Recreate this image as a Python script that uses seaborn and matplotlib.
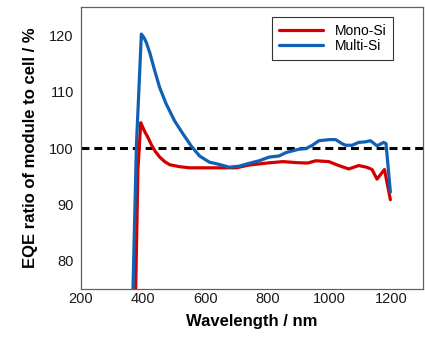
import numpy as np
import pandas as pd
import matplotlib
matplotlib.use("Agg")
import matplotlib.pyplot as plt
import seaborn as sns

mono_wl = [375, 384, 393, 405, 416, 428, 440, 454, 470, 486, 518, 550, 600, 650,
           700, 742, 800, 850, 900, 930, 956, 998, 1030, 1062, 1094, 1120, 1137,
           1153, 1177, 1196]
mono_val = [70, 96.3, 104.5, 103.0, 101.9, 100.5, 99.4, 98.4, 97.6, 97.05, 96.7,
            96.5, 96.5, 96.5, 96.5, 97.0, 97.35, 97.6, 97.4, 97.35, 97.75, 97.6,
            96.9, 96.3, 96.9, 96.6, 96.2, 94.5, 96.2, 90.85]

multi_wl = [365, 379, 395, 403, 411, 422, 438, 454, 475, 502, 529, 555, 582, 614,
            646, 678, 710, 742, 774, 806, 838, 860, 902, 924, 945, 966, 1000,
            1020, 1040, 1052, 1073, 1094, 1115, 1132, 1153, 1174, 1182, 1196]
multi_val = [68, 100.4, 120.2, 119.6, 118.7, 116.9, 113.7, 110.7, 107.8, 104.8,
             102.5, 100.4, 98.6, 97.5, 97.1, 96.6, 96.8, 97.3, 97.75, 98.4, 98.6,
             99.2, 99.8, 99.9, 100.5, 101.3, 101.5, 101.5, 100.8, 100.5, 100.5,
             101.0, 101.1, 101.3, 100.4, 101.0, 100.8, 92.2]

series_names = ["Mono-Si", "Multi-Si"]
ref_level = 100
x_ticks = [200, 400, 600, 800, 1000, 1200]
y_ticks = [80, 90, 100, 110, 120]

df = pd.concat([
    pd.DataFrame({"wl": mono_wl, "val": mono_val, "series": series_names[0]}),
    pd.DataFrame({"wl": multi_wl, "val": multi_val, "series": series_names[1]}),
], ignore_index=True)

sns.set_style("white")
plt.rcParams["font.family"] = ["Liberation Sans", "DejaVu Sans"]

fig = plt.figure(figsize=(4.25, 3.43), dpi=100)
ax = fig.add_axes([0.19, 0.157, 0.8046, 0.8226])

ax.axhline(ref_level, color="black", lw=2.2, ls=(0, (2.6, 1.6)), zorder=1)

sns.lineplot(data=df, x="wl", y="val", hue="series", sort=False, estimator=None,
             palette={"Mono-Si": "#d40000", "Multi-Si": "#1060b4"},
             lw=2.3, ax=ax, zorder=3)
for ln in ax.get_lines():
    ln.set_solid_joinstyle("round")

ax.set_xlim(200, 1300)
ax.set_ylim(75, 125)
ax.set_xticks(x_ticks)
ax.set_yticks(y_ticks)
ax.tick_params(axis="both", labelsize=10.5, labelcolor="#1a1a1a", length=3,
               width=0.8, color="#555555", direction="out", pad=2)
ax.tick_params(axis="x", length=0)
for sp in ax.spines.values():
    sp.set_color("#606060")
    sp.set_linewidth(0.9)

ax.set_xlabel("Wavelength / nm", fontsize=12, fontweight="bold", labelpad=6,
              color="black")
ax.set_ylabel("EQE ratio of module to cell / %", fontsize=12, fontweight="bold",
              labelpad=8, color="black")

leg = ax.legend(loc="upper right", bbox_to_anchor=(0.914, 0.966), fontsize=10,
                frameon=True, fancybox=False, edgecolor="black", handlelength=3.2,
                borderpad=0.5, labelspacing=0.1, handletextpad=0.8,
                borderaxespad=0)
leg.get_frame().set_linewidth(0.8)
for t in leg.get_texts():
    t.set_color("black")

fig.savefig("out.png", dpi=100)
